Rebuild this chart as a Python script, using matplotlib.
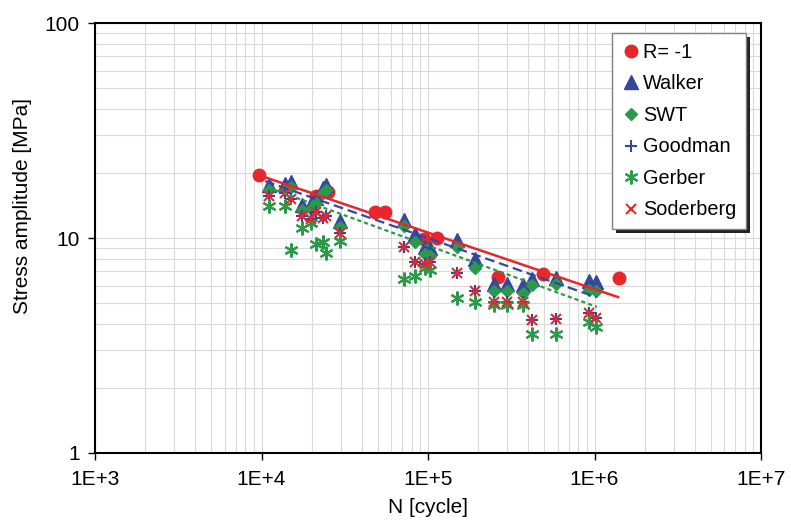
import math
import matplotlib
matplotlib.use("Agg")
import matplotlib.pyplot as plt
from matplotlib.ticker import FixedLocator, FuncFormatter, NullFormatter
from matplotlib.patches import Rectangle

plt.rcParams['font.family'] = ['Liberation Sans', 'DejaVu Sans']
plt.rcParams['lines.scale_dashes'] = False

# fully reversed tests (R = -1)
n_r1 = [9.7e3, 21.2e3, 25.0e3, 48.0e3, 55.2e3, 94.6e3, 113e3, 263e3, 491e3, 1.40e6]
s_r1 = [19.6, 15.7, 16.4, 13.2, 13.2, 9.9, 10.0, 6.6, 6.8, 6.5]

# tests with mean stress, converted to equivalent amplitude
n_eq = [11.1e3, 13.8e3, 15.0e3, 17.5e3, 19.8e3, 21.2e3, 23.4e3, 24.4e3, 29.6e3,
        71.8e3, 83.6e3, 95.9e3, 102.8e3, 149e3, 191e3,
        249e3, 298e3, 372e3, 422e3, 587e3, 927e3, 1.02e6]
s_walker = [17.6, 17.8, 18.2, 14.2, 14.4, 15.3, 17.1, 17.6, 12.0,
            12.1, 10.4, 9.1, 9.0, 9.8, 8.0,
            6.1, 6.1, 6.05, 6.45, 6.5, 6.3, 6.25]
s_swt = [16.7, 16.9, 17.3, 13.5, 13.6, 14.5, 16.2, 16.7, 11.25,
         11.4, 9.6, 8.4, 8.25, 9.1, 7.25,
         5.67, 5.67, 5.55, 6.05, 6.1, 5.73, 5.67]
s_goodman = [15.7, 16.2, 15.2, 12.65, 12.24, 13.2, 12.4, 12.65, 10.5,
             9.1, 7.7, 7.55, 7.7, 6.85, 5.67,
             5.04, 5.04, 5.04, 4.16, 4.2, 4.48, 4.25]
s_soderberg = [15.7, 16.2, 15.2, 12.65, 12.24, 13.2, 12.4, 12.65, 10.5,
               9.1, 7.7, 7.55, 7.7, 6.85, 5.67,
               5.04, 5.04, 5.04, 4.16, 4.2, 4.48, 4.25]
s_gerber = [14.1, 14.1, 8.8, 11.1, 11.7, 9.4, 9.6, 8.5, 9.7,
            6.45, 6.65, 7.25, 7.1, 5.26, 5.04,
            4.88, 4.88, 4.88, 3.57, 3.57, 4.07, 3.86]

# power-law trend lines (end points)
trend_r1_n = [9.66e3, 1.384e6]
trend_r1_s = [19.6, 5.31]
trend_goodman_n = [1.05e4, 1.03e6]
trend_goodman_s = [18.4, 5.3]
trend_gerber_n = [1.11e4, 1.035e6]
trend_gerber_s = [17.1, 4.78]

red = '#e8262b'
blue = '#34489c'
green = '#2a9a4a'

fig = plt.figure(figsize=(7.91, 5.20), dpi=100)
ax = fig.add_axes([95 / 791, 67 / 520, 666 / 791, 430 / 520])

ax.plot(n_r1, s_r1, 'o', color=red, ms=9, ls='none', label='R= -1', zorder=3)
ax.plot(n_eq, s_walker, '^', color=blue, ms=10, ls='none', label='Walker', zorder=3)
ax.plot(n_eq, s_swt, 'D', color=green, ms=6.5, ls='none', label='SWT', zorder=3)
ax.plot(n_eq, s_goodman, '+', color=blue, ms=9, mew=1.5, ls='none', label='Goodman', zorder=3)
ax.plot(n_eq, s_gerber, marker=(6, 2, 0), color=green, ms=10, mew=1.5, ls='none',
        label='Gerber', zorder=3)
ax.plot(n_eq, s_soderberg, 'x', color=red, ms=7, mew=1.5, ls='none', label='Soderberg', zorder=3)

ax.plot(trend_r1_n, trend_r1_s, '-', color=red, lw=1.8, zorder=4)
ax.plot(trend_goodman_n, trend_goodman_s, color=blue, lw=1.6, dashes=(7, 3.5), zorder=4)
ax.plot(trend_gerber_n, trend_gerber_s, color=green, lw=1.6, dashes=(3, 2.2), zorder=4)

ax.set_xscale('log')
ax.set_yscale('log')
ax.set_xlim(1e3, 1e7)
ax.set_ylim(1, 100)

ax.xaxis.set_major_locator(FixedLocator([1e3, 1e4, 1e5, 1e6, 1e7]))
ax.xaxis.set_major_formatter(FuncFormatter(lambda v, p: '1E+%d' % round(math.log10(v))))
ax.yaxis.set_major_locator(FixedLocator([1, 10, 100]))
ax.yaxis.set_major_formatter(FuncFormatter(lambda v, p: '%d' % round(v)))
ax.xaxis.set_minor_formatter(NullFormatter())
ax.yaxis.set_minor_formatter(NullFormatter())

ax.grid(True, which='both', color='#dadada', lw=0.8)
ax.set_axisbelow(True)
ax.tick_params(which='major', length=5, width=1, direction='out', labelsize=15)
ax.tick_params(axis='x', pad=7)
ax.tick_params(axis='y', pad=6)
ax.tick_params(which='minor', length=0)
for sp in ax.spines.values():
    sp.set_linewidth(1.5)
    sp.set_color('black')

ax.set_xlabel('N [cycle]', fontsize=15)
ax.xaxis.set_label_coords(0.5, -0.105)
ax.set_ylabel('Stress amplitude [MPa]', fontsize=15)
ax.yaxis.set_label_coords(-0.095, 0.574)

leg = ax.legend(loc='upper left', bbox_to_anchor=((612 - 95) / 666, (453 - 33) / 430),
                borderaxespad=0, fontsize=14.3, frameon=True, fancybox=False,
                edgecolor='#808080', framealpha=1, labelspacing=0.63,
                handlelength=0.9, handletextpad=0.15, borderpad=0.5, numpoints=1)
leg.get_frame().set_linewidth(1.0)

fig.canvas.draw()
bb = leg.get_window_extent()
shadow = Rectangle((bb.x0 + 4, bb.y0 - 4), bb.width, bb.height, transform=None,
                   facecolor='#222222', edgecolor='none', zorder=4.9, clip_on=False)
ax.add_artist(shadow)

fig.savefig('out.png', dpi=100)
